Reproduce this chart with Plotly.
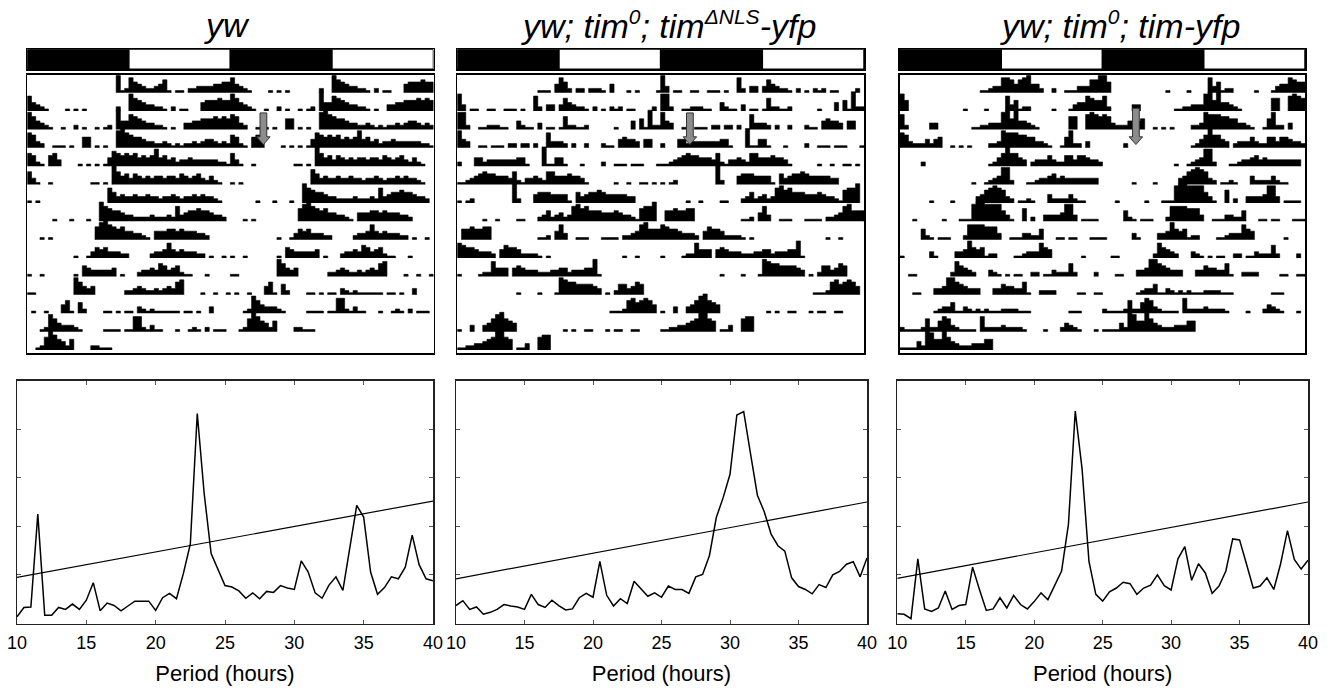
import plotly.graph_objects as go

# ---------------------------------------------------------------- data
SUP = '<sup><span style="font-size:21px">{}</span></sup>'
title_markup = [
    "<i>yw</i>",
    "<i>yw; tim" + SUP.format("0") + "; tim" + SUP.format("ΔNLS") + "-yfp</i>",
    "<i>yw; tim" + SUP.format("0") + "; tim-yfp</i>",
]

# light schedule drawn above each double-plotted actogram (12-h blocks)
ld_states = ["dark", "light", "dark", "light"]
ld_block_hours = 12

# daily locomotor activity, 48 half-hour bins per day, relative counts 0-9
yw_days = [
    "0000000000 0000000000 0812754322 3461011022 33334455",
    "7432100001 0101000000 0200865433 2210201100 04555655",
    "8643210010 0201001012 0944765433 2210100334 45556565",
    "7632001110 1005501010 0897655433 2232121223 23443232",
    "6521056300 0010101014 7656564545 8453423343 33333221",
    "6310010000 0000011010 9645354343 4434435434 53242100",
    "1010000000 0000000007 5343343343 3233432334 34332100",
    "0000001000 1000100976 5543322223 2223273455 65543320",
    "0001010000 0000006897 6564433210 4445545444 33200000",
    "0000000000 0100135453 3322000002 3347434333 22010010",
    "1001000000 0105433333 4010002334 3653452110 00100000",
    "1100000000 0864340000 0002234322 3234367000 01001001",
    "0100100046 1052000011 0101103212 1111110110 10030000",
    "0001286433 3210000011 1101177213 1100010012 10201110",
    "0012697542 5000022111 0000000000 0000000000 00000000",
]
nls_days = [
    "0000000000 0000000001 1104752022 0222104000 10100001",
    "8301100110 0111010072 0330364322 1020102120 11000020",
    "8820011222 1100421103 0110162211 2000000100 04051922",
    "8430011011 1022022020 0733320200 2000211045 44304400",
    "2000442333 3333441000 9114410001 0000200111 01110001",
    "1123456554 4436213343 2664445443 1000000100 10011010",
    "1012000000 0009200045 5544441053 4556544444 33000000",
    "0000001001 0000110002 3523423786 7555444543 32167790",
    "0556556600 0000000001 1204730011 1000111102 23478555",
    "7655433320 4655422221 0100000000 0000000001 00100000",
    "1000012274 4404543332 2233442333 4481000000 00000000",
    "0000000000 0000100001 0001876655 5543010255 34650000",
    "0000000000 0000000000 0000000000 0000001112 67567640",
    "1003003468 9654000000 0000010100 1100010110 01100000",
    "1122334569 9650113006 7700000000 0000000000 00000000",
]
timyfp_days = [
    "0000000000 0000000001 1233776467 8442002001 11333668",
    "8500000000 0000010000 1000073512 2000001000 13447655",
    "7200000330 0000000112 2333895944 3210000000 66007876",
    "7632224245 0010101000 0223877766 5533210015 82203000",
    "0000020000 0000000000 0124696643 0233353225 53554332",
    "0000000000 0000000100 1234882000 1123345343 33333330",
    "0000000100 0010000034 6787632011 2100042222 42110000",
    "0001000000 1000111899 8888531006 0200333348 83011110",
    "0000052101 1100027777 6663001113 3225000110 11000111",
    "1000000310 0003348545 1220000112 3337540000 00010000",
    "0011000000 0027543200 0321010110 0220113222 62000020",
    "0001100033 4886543330 0033544336 1002222000 00110011",
    "0000000012 3351132121 2111222211 1000000000 11100000",
    "2111126225 7632111107 2222322221 0000100024 32100010",
    "1111429855 9643222333 5500000000 0000000000 00000000",
]

# hour (within the 48-h double plot) at which the grey arrow marks the transfer
release_hours = [27.9, 27.45, 27.96]

# periodogram
periods = [10.0, 10.5, 11.0, 11.5, 12.0, 12.5, 13.0, 13.5, 14.0, 14.5,
           15.0, 15.5, 16.0, 16.5, 17.0, 17.5, 18.0, 18.5, 19.0, 19.5,
           20.0, 20.5, 21.0, 21.5, 22.0, 22.5, 23.0, 23.5, 24.0, 24.5,
           25.0, 25.5, 26.0, 26.5, 27.0, 27.5, 28.0, 28.5, 29.0, 29.5,
           30.0, 30.5, 31.0, 31.5, 32.0, 32.5, 33.0, 33.5, 34.0, 34.5,
           35.0, 35.5, 36.0, 36.5, 37.0, 37.5, 38.0, 38.5, 39.0, 39.5,
           40.0]
yw_power = [0.14, 0.33, 0.34, 2.25, 0.17, 0.17, 0.33, 0.29, 0.40, 0.29,
            0.48, 0.84, 0.26, 0.42, 0.37, 0.26, 0.36, 0.46, 0.46, 0.46,
            0.27, 0.53, 0.62, 0.51, 1.03, 1.64, 4.32, 2.67, 1.44, 1.10,
            0.78, 0.75, 0.67, 0.52, 0.63, 0.51, 0.66, 0.64, 0.78, 0.73,
            0.70, 1.29, 1.06, 0.63, 0.52, 0.79, 0.96, 0.68, 1.58, 2.43,
            2.19, 1.06, 0.60, 0.74, 0.96, 0.92, 1.16, 1.82, 1.21, 0.92,
            0.88]
nls_power = [0.37, 0.47, 0.29, 0.34, 0.19, 0.23, 0.29, 0.39, 0.36, 0.34,
             0.29, 0.60, 0.39, 0.33, 0.48, 0.37, 0.28, 0.30, 0.53, 0.62,
             0.54, 1.28, 0.58, 0.36, 0.51, 0.41, 0.87, 0.72, 0.56, 0.63,
             0.54, 0.77, 0.70, 0.70, 0.62, 0.96, 1.01, 1.40, 2.18, 2.59,
             3.07, 4.29, 4.36, 3.49, 2.64, 2.30, 1.84, 1.60, 1.49, 0.94,
             0.76, 0.70, 0.61, 0.80, 0.74, 1.00, 1.07, 1.22, 1.27, 0.96,
             1.35]
timyfp_power = [0.20, 0.19, 0.10, 1.33, 0.30, 0.25, 0.32, 0.67, 0.29, 0.37,
                0.39, 1.16, 0.70, 0.27, 0.30, 0.53, 0.32, 0.58, 0.39, 0.30,
                0.45, 0.63, 0.49, 0.77, 1.08, 2.04, 4.37, 3.17, 1.28, 0.60,
                0.46, 0.65, 0.73, 0.85, 0.82, 0.60, 0.73, 0.79, 1.00, 0.78,
                0.69, 1.33, 1.58, 0.89, 1.23, 1.04, 0.62, 0.77, 1.08, 1.74,
                1.72, 1.23, 0.73, 0.77, 0.94, 0.70, 1.23, 1.91, 1.32, 1.12,
                1.30]
# significance line end points (period 10 h and 40 h)
sig_periods = [10, 40]
yw_sig = [0.95, 2.52]
nls_sig = [0.92, 2.50]
timyfp_sig = [0.93, 2.50]

# ---------------------------------------------------------------- layout (pixels)
W, H = 1332, 688
FONT = "Liberation Sans, Arial, Helvetica, sans-serif"
act_x_px = [(27.3, 433.5), (457.3, 864.0), (900.0, 1305.0)]
per_x_px = [(17.0, 433.0), (456.0, 867.0), (897.3, 1308.0)]
title_x_px = [227, 668, 1120]
TITLE_Y_PX = 25
LD_Y_PX = (49.3, 69.3)
ACT_Y_PX = (75.0, 353.0)
PER_Y_PX = (380.5, 623.5)
ROW_TOP = 0.963          # data units above first baseline
ROW_EXTRA_BOTTOM = 0.163
BAR_UNIT = 1.05 / 9.0    # row fraction per activity unit
BIN_H = 0.5
arrow_top = [-1.10, -1.10, -0.85]
arrow_head = -2.40
arrow_tip = -2.82


def xdom(a, b):
    return [a / W, b / W]


def ydom(top, bottom):
    return [1 - bottom / H, 1 - top / H]


def names(n):
    if n == 1:
        return "xaxis", "yaxis", "x", "y"
    return f"xaxis{n}", f"yaxis{n}", f"x{n}", f"y{n}"


def parse(day):
    s = day.replace(" ", "").ljust(48, "0")[:48]
    return [int(c) for c in s]


panels = [
    dict(days=yw_days, power=yw_power, sig=yw_sig),
    dict(days=nls_days, power=nls_power, sig=nls_sig),
    dict(days=timyfp_days, power=timyfp_power, sig=timyfp_sig),
]

fig = go.Figure()
layout = {}
shapes = []
annotations = []

frame = dict(showgrid=False, zeroline=False, showticklabels=False, ticks="",
             showline=True, mirror=True, linecolor="black", linewidth=1.6,
             fixedrange=True, automargin=False)

for i, p in enumerate(panels):
    n_ld, n_act, n_per = 3 * i + 1, 3 * i + 2, 3 * i + 3
    xa_ld, ya_ld, xr_ld, yr_ld = names(n_ld)
    xa_ac, ya_ac, xr_ac, yr_ac = names(n_act)
    xa_pe, ya_pe, xr_pe, yr_pe = names(n_per)

    # ---- LD bar
    fig.add_trace(go.Bar(
        x=[k * ld_block_hours + ld_block_hours / 2 for k in range(len(ld_states))],
        y=[1] * len(ld_states), base=0, width=ld_block_hours,
        marker=dict(color=["black" if s == "dark" else "white" for s in ld_states],
                    line=dict(color="black", width=1.5)),
        xaxis=xr_ld, yaxis=yr_ld, hoverinfo="skip", showlegend=False))
    layout[xa_ld] = dict(frame, domain=xdom(*act_x_px[i]), range=[0, 48], anchor=yr_ld)
    layout[ya_ld] = dict(frame, domain=ydom(*LD_Y_PX), range=[0, 1], anchor=xr_ld)

    # ---- double-plotted actogram: one step-histogram polygon per activity run
    days = [parse(d) for d in p["days"]]
    n_rows = len(days)
    xs, ys = [], []
    for r in range(n_rows):
        row_vals = days[r] + (days[r + 1] if r + 1 < n_rows else [0] * 48)
        base = -r
        b = 0
        while b < len(row_vals):
            if row_vals[b] == 0:
                b += 1
                continue
            start = b
            xs.append(start * BIN_H)
            ys.append(base)
            while b < len(row_vals) and row_vals[b] > 0:
                h = base + row_vals[b] * BAR_UNIT
                xs += [b * BIN_H, (b + 1) * BIN_H]
                ys += [h, h]
                b += 1
            xs += [b * BIN_H, None]
            ys += [base, None]
    fig.add_trace(go.Scatter(
        x=xs, y=ys, mode="lines", fill="toself", fillcolor="black",
        line=dict(color="black", width=0.6), connectgaps=False,
        xaxis=xr_ac, yaxis=yr_ac, hoverinfo="skip", showlegend=False))
    layout[xa_ac] = dict(frame, domain=xdom(*act_x_px[i]), range=[0, 48], anchor=yr_ac)
    layout[ya_ac] = dict(frame, domain=ydom(*ACT_Y_PX),
                         range=[-(n_rows - 1) - ROW_EXTRA_BOTTOM, ROW_TOP], anchor=xr_ac)

    # release arrow
    cx = release_hours[i]
    sw, hw = 0.40, 0.80
    yt = arrow_top[i]
    path = (f"M {cx - sw},{yt} L {cx + sw},{yt} L {cx + sw},{arrow_head} "
            f"L {cx + hw},{arrow_head} L {cx},{arrow_tip} L {cx - hw},{arrow_head} "
            f"L {cx - sw},{arrow_head} Z")
    shapes.append(dict(type="path", path=path, xref=xr_ac, yref=yr_ac,
                       fillcolor="#8c8c8c", line=dict(color="#333333", width=1)))

    # ---- periodogram
    fig.add_trace(go.Scatter(x=periods, y=p["power"], mode="lines",
                             line=dict(color="black", width=1.5),
                             xaxis=xr_pe, yaxis=yr_pe, hoverinfo="skip", showlegend=False))
    fig.add_trace(go.Scatter(x=sig_periods, y=p["sig"], mode="lines",
                             line=dict(color="black", width=1.2),
                             xaxis=xr_pe, yaxis=yr_pe, hoverinfo="skip", showlegend=False))
    layout[xa_pe] = dict(domain=xdom(*per_x_px[i]), range=[10, 40], anchor=yr_pe,
                         tickvals=[10, 15, 20, 25, 30, 35, 40], ticks="inside",
                         ticklen=4, tickwidth=1, tickcolor="#555555",
                         showline=True, mirror="ticks", linecolor="#222222", linewidth=1.5,
                         showgrid=False, zeroline=False, fixedrange=True, automargin=False,
                         tickfont=dict(family=FONT, size=18, color="black"),
                         ticklabelstandoff=2,
                         title=dict(text="Period (hours)", standoff=14,
                                    font=dict(family=FONT, size=22, color="black")))
    layout[ya_pe] = dict(domain=ydom(*PER_Y_PX), range=[0, 5], anchor=xr_pe,
                         tickvals=[1, 2, 3, 4], ticks="inside", ticklen=4, tickwidth=1,
                         tickcolor="#555555", showticklabels=False,
                         showline=True, mirror="ticks", linecolor="#222222", linewidth=1.5,
                         showgrid=False, zeroline=False, fixedrange=True, automargin=False)

    annotations.append(dict(text=title_markup[i], xref="paper", yref="paper",
                            x=title_x_px[i] / W, y=1 - TITLE_Y_PX / H,
                            xanchor="center", yanchor="middle", showarrow=False,
                            font=dict(family=FONT, size=34, color="black")))

fig.update_layout(
    width=W, height=H, autosize=False,
    margin=dict(l=0, r=0, t=0, b=0, pad=0),
    paper_bgcolor="white", plot_bgcolor="white",
    barmode="overlay", showlegend=False,
    shapes=shapes, annotations=annotations,
    font=dict(family=FONT, color="black"),
    **layout,
)

fig.write_html("out.html", config={"displayModeBar": False, "staticPlot": True},
               post_script="document.body.style.margin='0px';")
